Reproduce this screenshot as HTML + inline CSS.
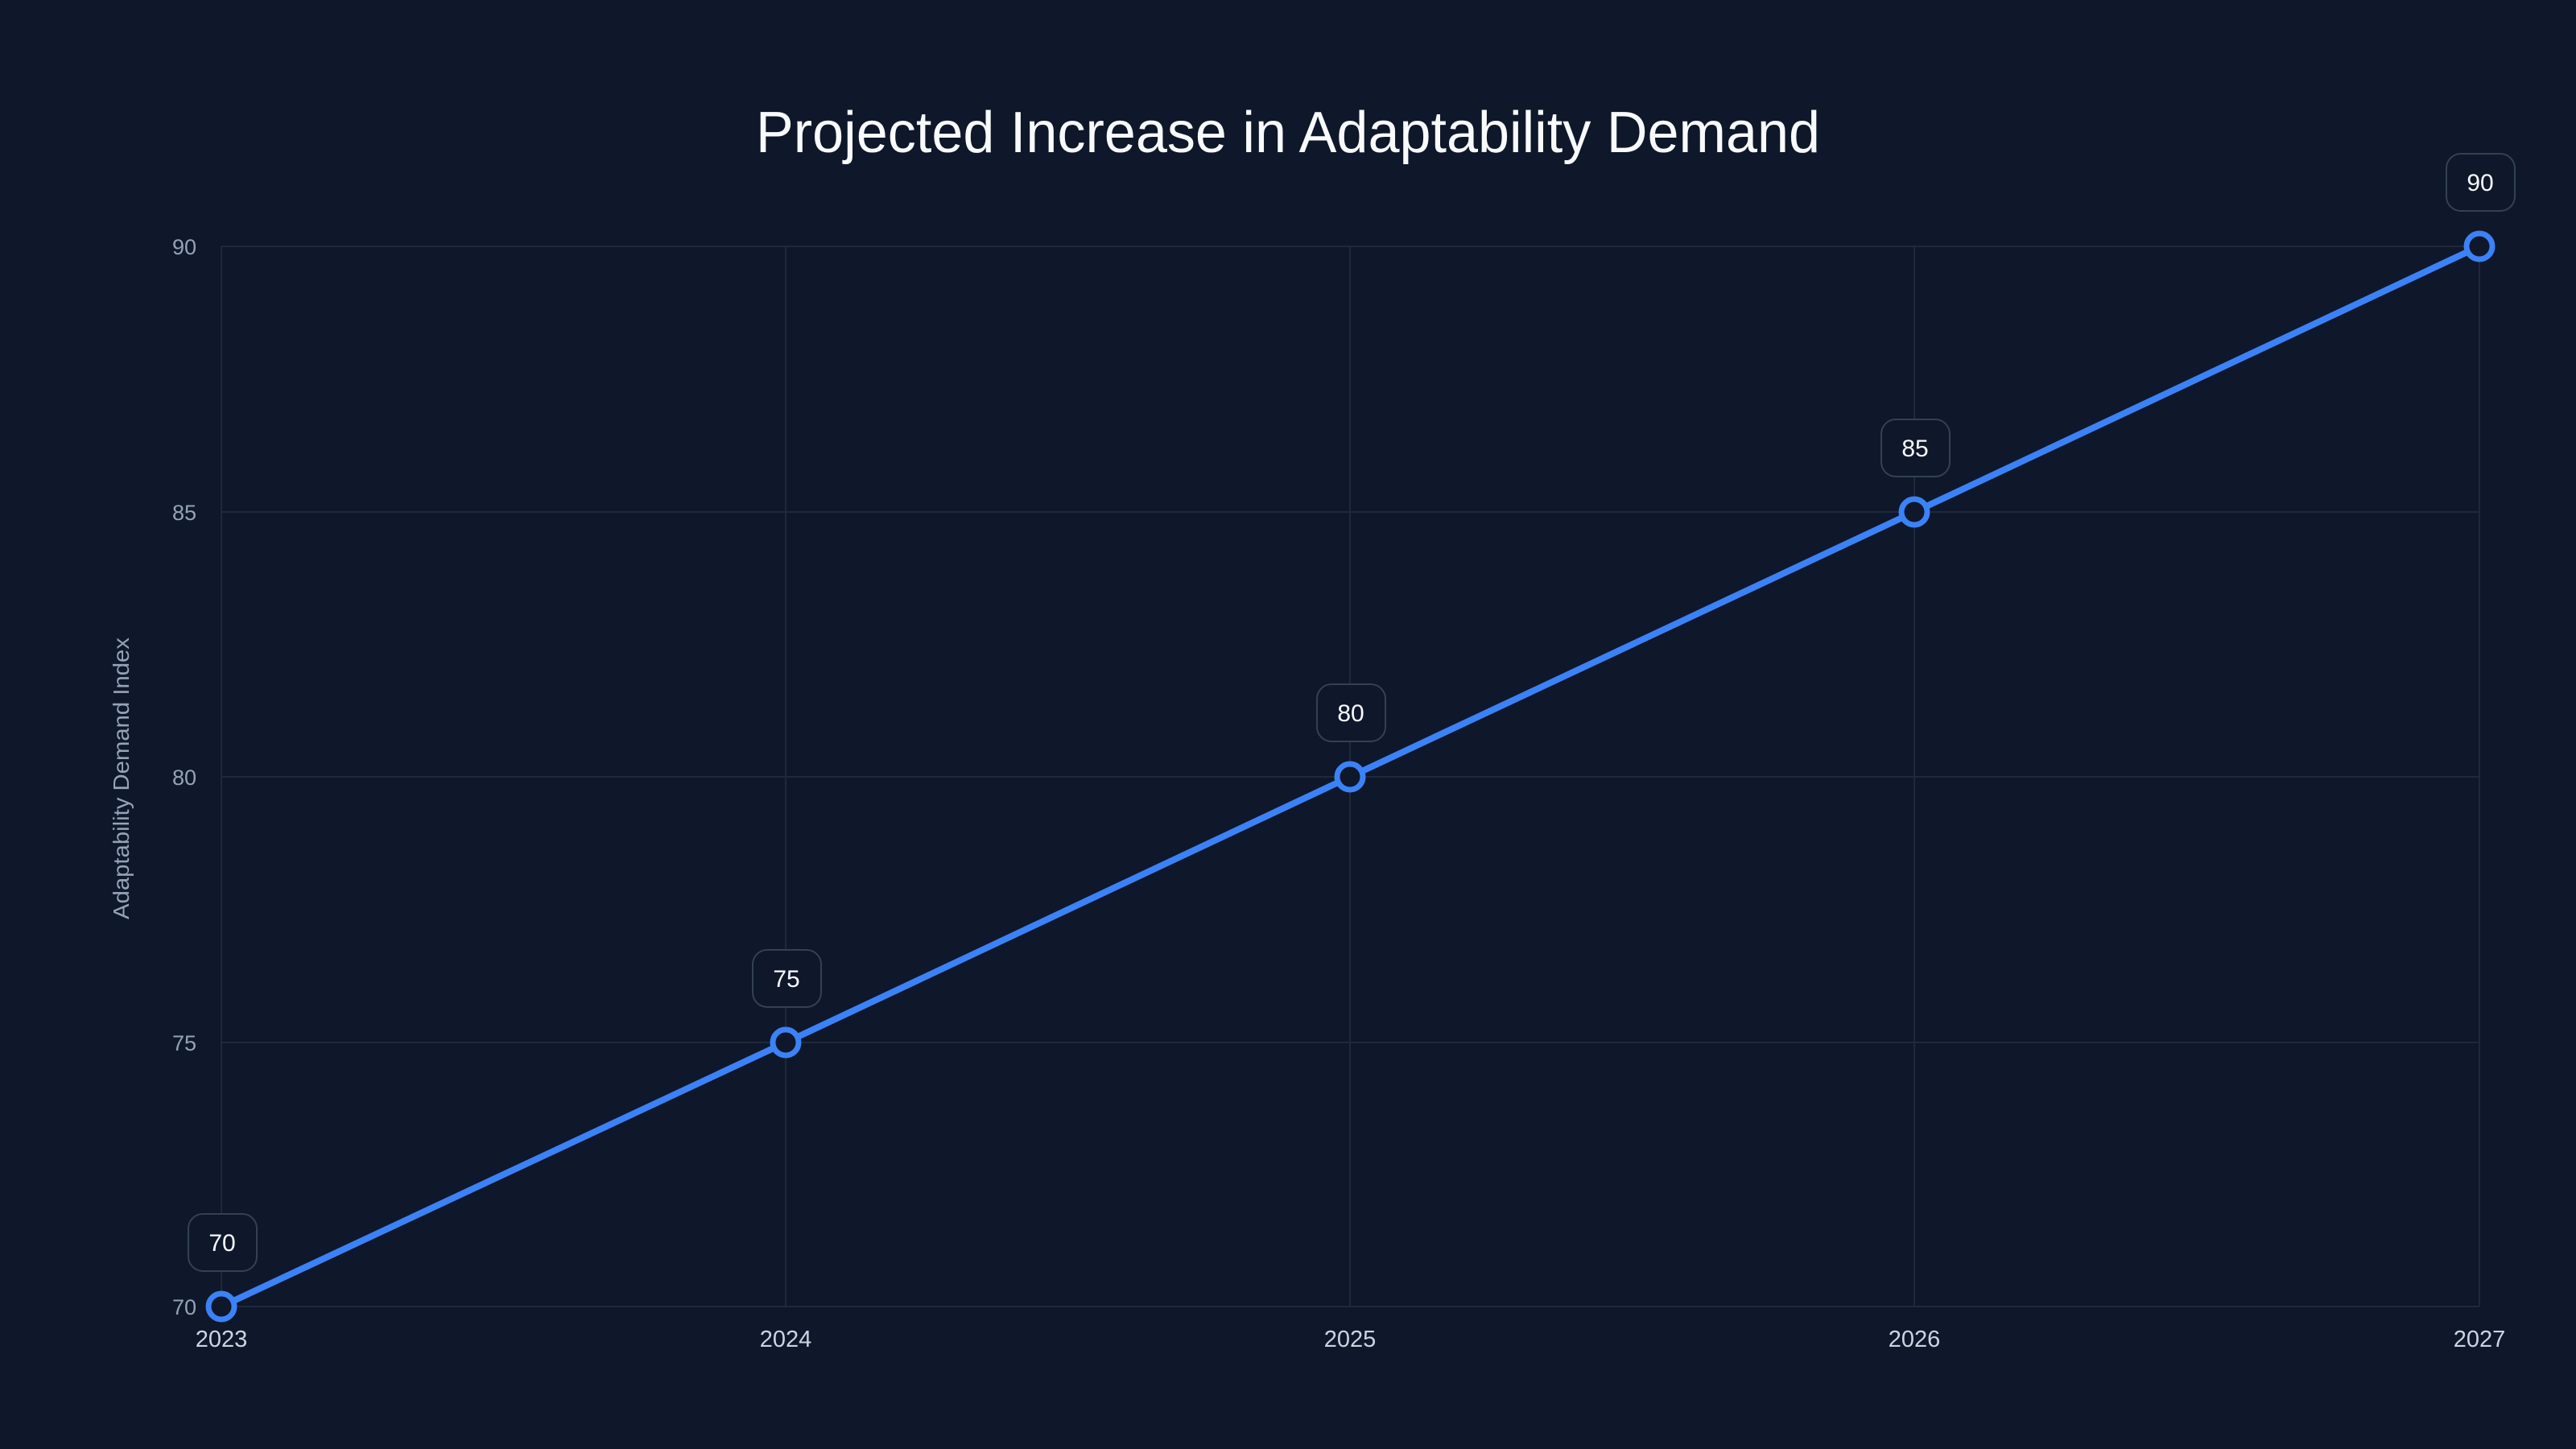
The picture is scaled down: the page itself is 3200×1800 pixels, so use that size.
<!DOCTYPE html>
<html><head><meta charset="utf-8"><style>
html,body{margin:0;padding:0;background:#0f172a;}
svg{display:block;font-family:"Liberation Sans",sans-serif;}
</style></head><body>
<svg width="3200" height="1800" viewBox="0 0 3200 1800" xmlns="http://www.w3.org/2000/svg">
<rect width="3200" height="1800" fill="#0f172a"/>
<text x="1600" y="189" text-anchor="middle" font-size="72" fill="#f8fafc" textLength="1322" lengthAdjust="spacingAndGlyphs">Projected Increase in Adaptability Demand</text>
<g stroke="#1e293b" stroke-width="2">
<line x1="275" y1="306" x2="3080" y2="306"/>
<line x1="275" y1="636" x2="3080" y2="636"/>
<line x1="275" y1="965" x2="3080" y2="965"/>
<line x1="275" y1="1295" x2="3080" y2="1295"/>
<line x1="275" y1="1623" x2="3080" y2="1623"/>
<line x1="275" y1="306" x2="275" y2="1623"/>
<line x1="976" y1="306" x2="976" y2="1623"/>
<line x1="1677" y1="306" x2="1677" y2="1623"/>
<line x1="2378" y1="306" x2="2378" y2="1623"/>
<line x1="3080" y1="306" x2="3080" y2="1623"/>
</g>
<g font-size="27" fill="#94a3b8" text-anchor="end">
<text x="244" y="316">90</text>
<text x="244" y="646">85</text>
<text x="244" y="975">80</text>
<text x="244" y="1305">75</text>
<text x="244" y="1633">70</text>
</g>
<g font-size="29" fill="#cbd5e1" text-anchor="middle">
<text x="275" y="1673">2023</text>
<text x="976" y="1673">2024</text>
<text x="1677" y="1673">2025</text>
<text x="2378" y="1673">2026</text>
<text x="3080" y="1673">2027</text>
</g>
<text transform="translate(160,967) rotate(-90)" text-anchor="middle" font-size="28" fill="#94a3b8" textLength="350" lengthAdjust="spacingAndGlyphs">Adaptability Demand Index</text>
<polyline points="275,1623 976,1295 1677,965 2378,636 3080,306" fill="none" stroke="#3b82f6" stroke-width="8" stroke-linejoin="round"/>
<g fill="#0f172a" stroke="#3b82f6" stroke-width="7">
<circle cx="275" cy="1623" r="16"/>
<circle cx="976" cy="1295" r="16"/>
<circle cx="1677" cy="965" r="16"/>
<circle cx="2378" cy="636" r="16"/>
<circle cx="3080" cy="306" r="16"/>
</g>
<g fill="#0f172a" stroke="#334155" stroke-width="2">
<rect x="234" y="1508" width="85" height="71" rx="18"/>
<rect x="935" y="1180" width="85" height="71" rx="18"/>
<rect x="1636" y="850" width="85" height="71" rx="18"/>
<rect x="2337" y="521" width="85" height="71" rx="18"/>
<rect x="3039" y="191" width="85" height="71" rx="18"/>
</g>
<g font-size="30" fill="#f8fafc" text-anchor="middle">
<text x="276" y="1554">70</text>
<text x="977" y="1226">75</text>
<text x="1678" y="896">80</text>
<text x="2379" y="567">85</text>
<text x="3081" y="237">90</text>
</g>
</svg>
</body></html>
